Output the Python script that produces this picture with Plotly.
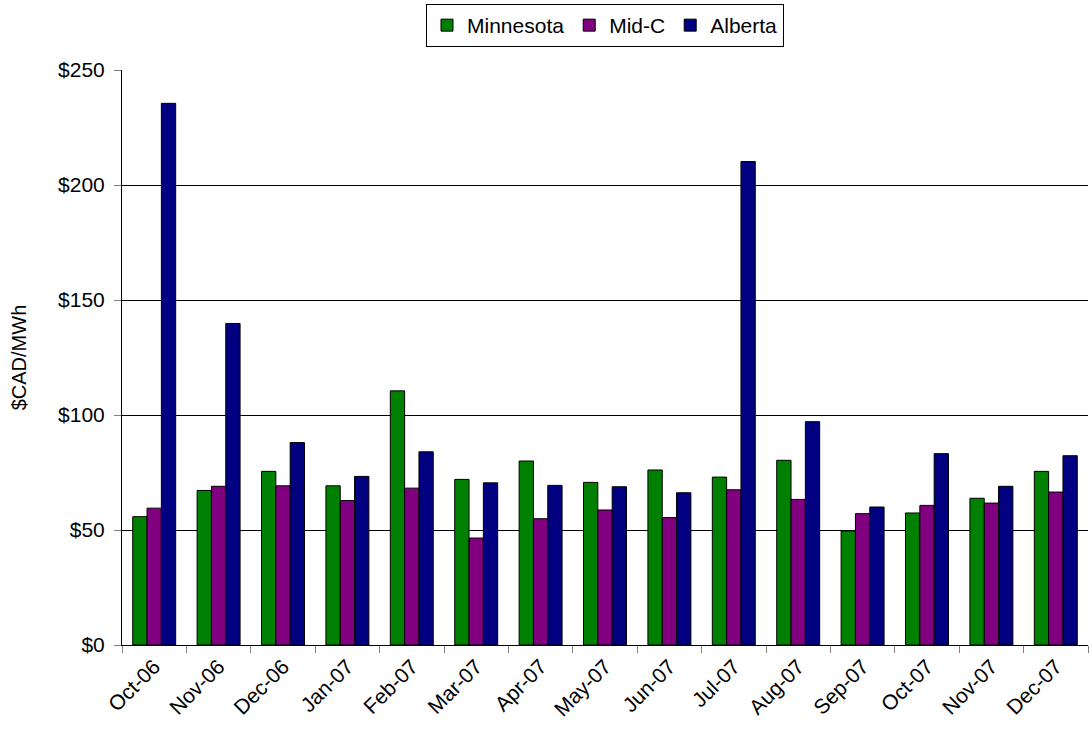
import plotly.graph_objects as go

# Monthly average power prices, $CAD/MWh
months = ["Oct-06", "Nov-06", "Dec-06", "Jan-07", "Feb-07", "Mar-07", "Apr-07", "May-07",
          "Jun-07", "Jul-07", "Aug-07", "Sep-07", "Oct-07", "Nov-07", "Dec-07"]
minnesota = [55.8, 67.2, 75.5, 69.2, 110.5, 72.0, 80.0, 70.7, 76.1, 73.0, 80.3, 49.6, 57.4, 63.8, 75.5]
mid_c = [59.5, 69.0, 69.2, 62.8, 68.2, 46.5, 54.9, 58.7, 55.4, 67.5, 63.3, 57.1, 60.7, 61.7, 66.5]
alberta = [235.5, 139.8, 88.0, 73.3, 84.0, 70.5, 69.4, 68.8, 66.2, 210.2, 97.1, 60.0, 83.2, 69.0, 82.3]

y_ticks = [0, 50, 100, 150, 200, 250]
y_tick_labels = ["$" + str(v) for v in y_ticks]

series = [
    ("Minnesota", minnesota, "#008000"),
    ("Mid-C", mid_c, "#800080"),
    ("Alberta", alberta, "#000080"),
]

fig = go.Figure()
for name, vals, color in series:
    fig.add_trace(go.Bar(
        x=months, y=vals, name=name,
        marker=dict(color=color, line=dict(color="black", width=1)),
    ))

font_family = "Liberation Sans, Arial, sans-serif"

fig.update_layout(
    width=1090, height=740,
    margin=dict(l=122, r=2, t=70, b=95),
    paper_bgcolor="white", plot_bgcolor="white",
    barmode="group", bargap=0.333, bargroupgap=0,
    font=dict(family=font_family, size=21, color="black"),
    showlegend=True,
    legend=dict(
        orientation="h", x=0.5, xanchor="center",
        yref="container", y=1 - 4 / 740, yanchor="top",
        bordercolor="black", borderwidth=1,
        font=dict(size=21), itemwidth=30,
        tracegroupgap=0,
    ),
    xaxis=dict(
        type="category", tickson="boundaries",
        ticks="outside", ticklen=7, tickcolor="#808080",
        showline=True, linecolor="black", linewidth=1,
        showgrid=False, tickangle=-45,
        tickfont=dict(size=21),
    ),
    yaxis=dict(
        range=[0, 250], tickmode="array", tickvals=y_ticks, ticktext=y_tick_labels,
        ticks="outside", ticklen=7, tickcolor="#808080",
        ticklabelstandoff=5,
        showline=True, linecolor="black", linewidth=1,
        showgrid=True, gridcolor="black", gridwidth=1,
        zeroline=False,
        title=dict(text="$CAD/MWh", font=dict(size=20), standoff=26),
        tickfont=dict(size=21),
    ),
)

fig.write_html("out.html")
